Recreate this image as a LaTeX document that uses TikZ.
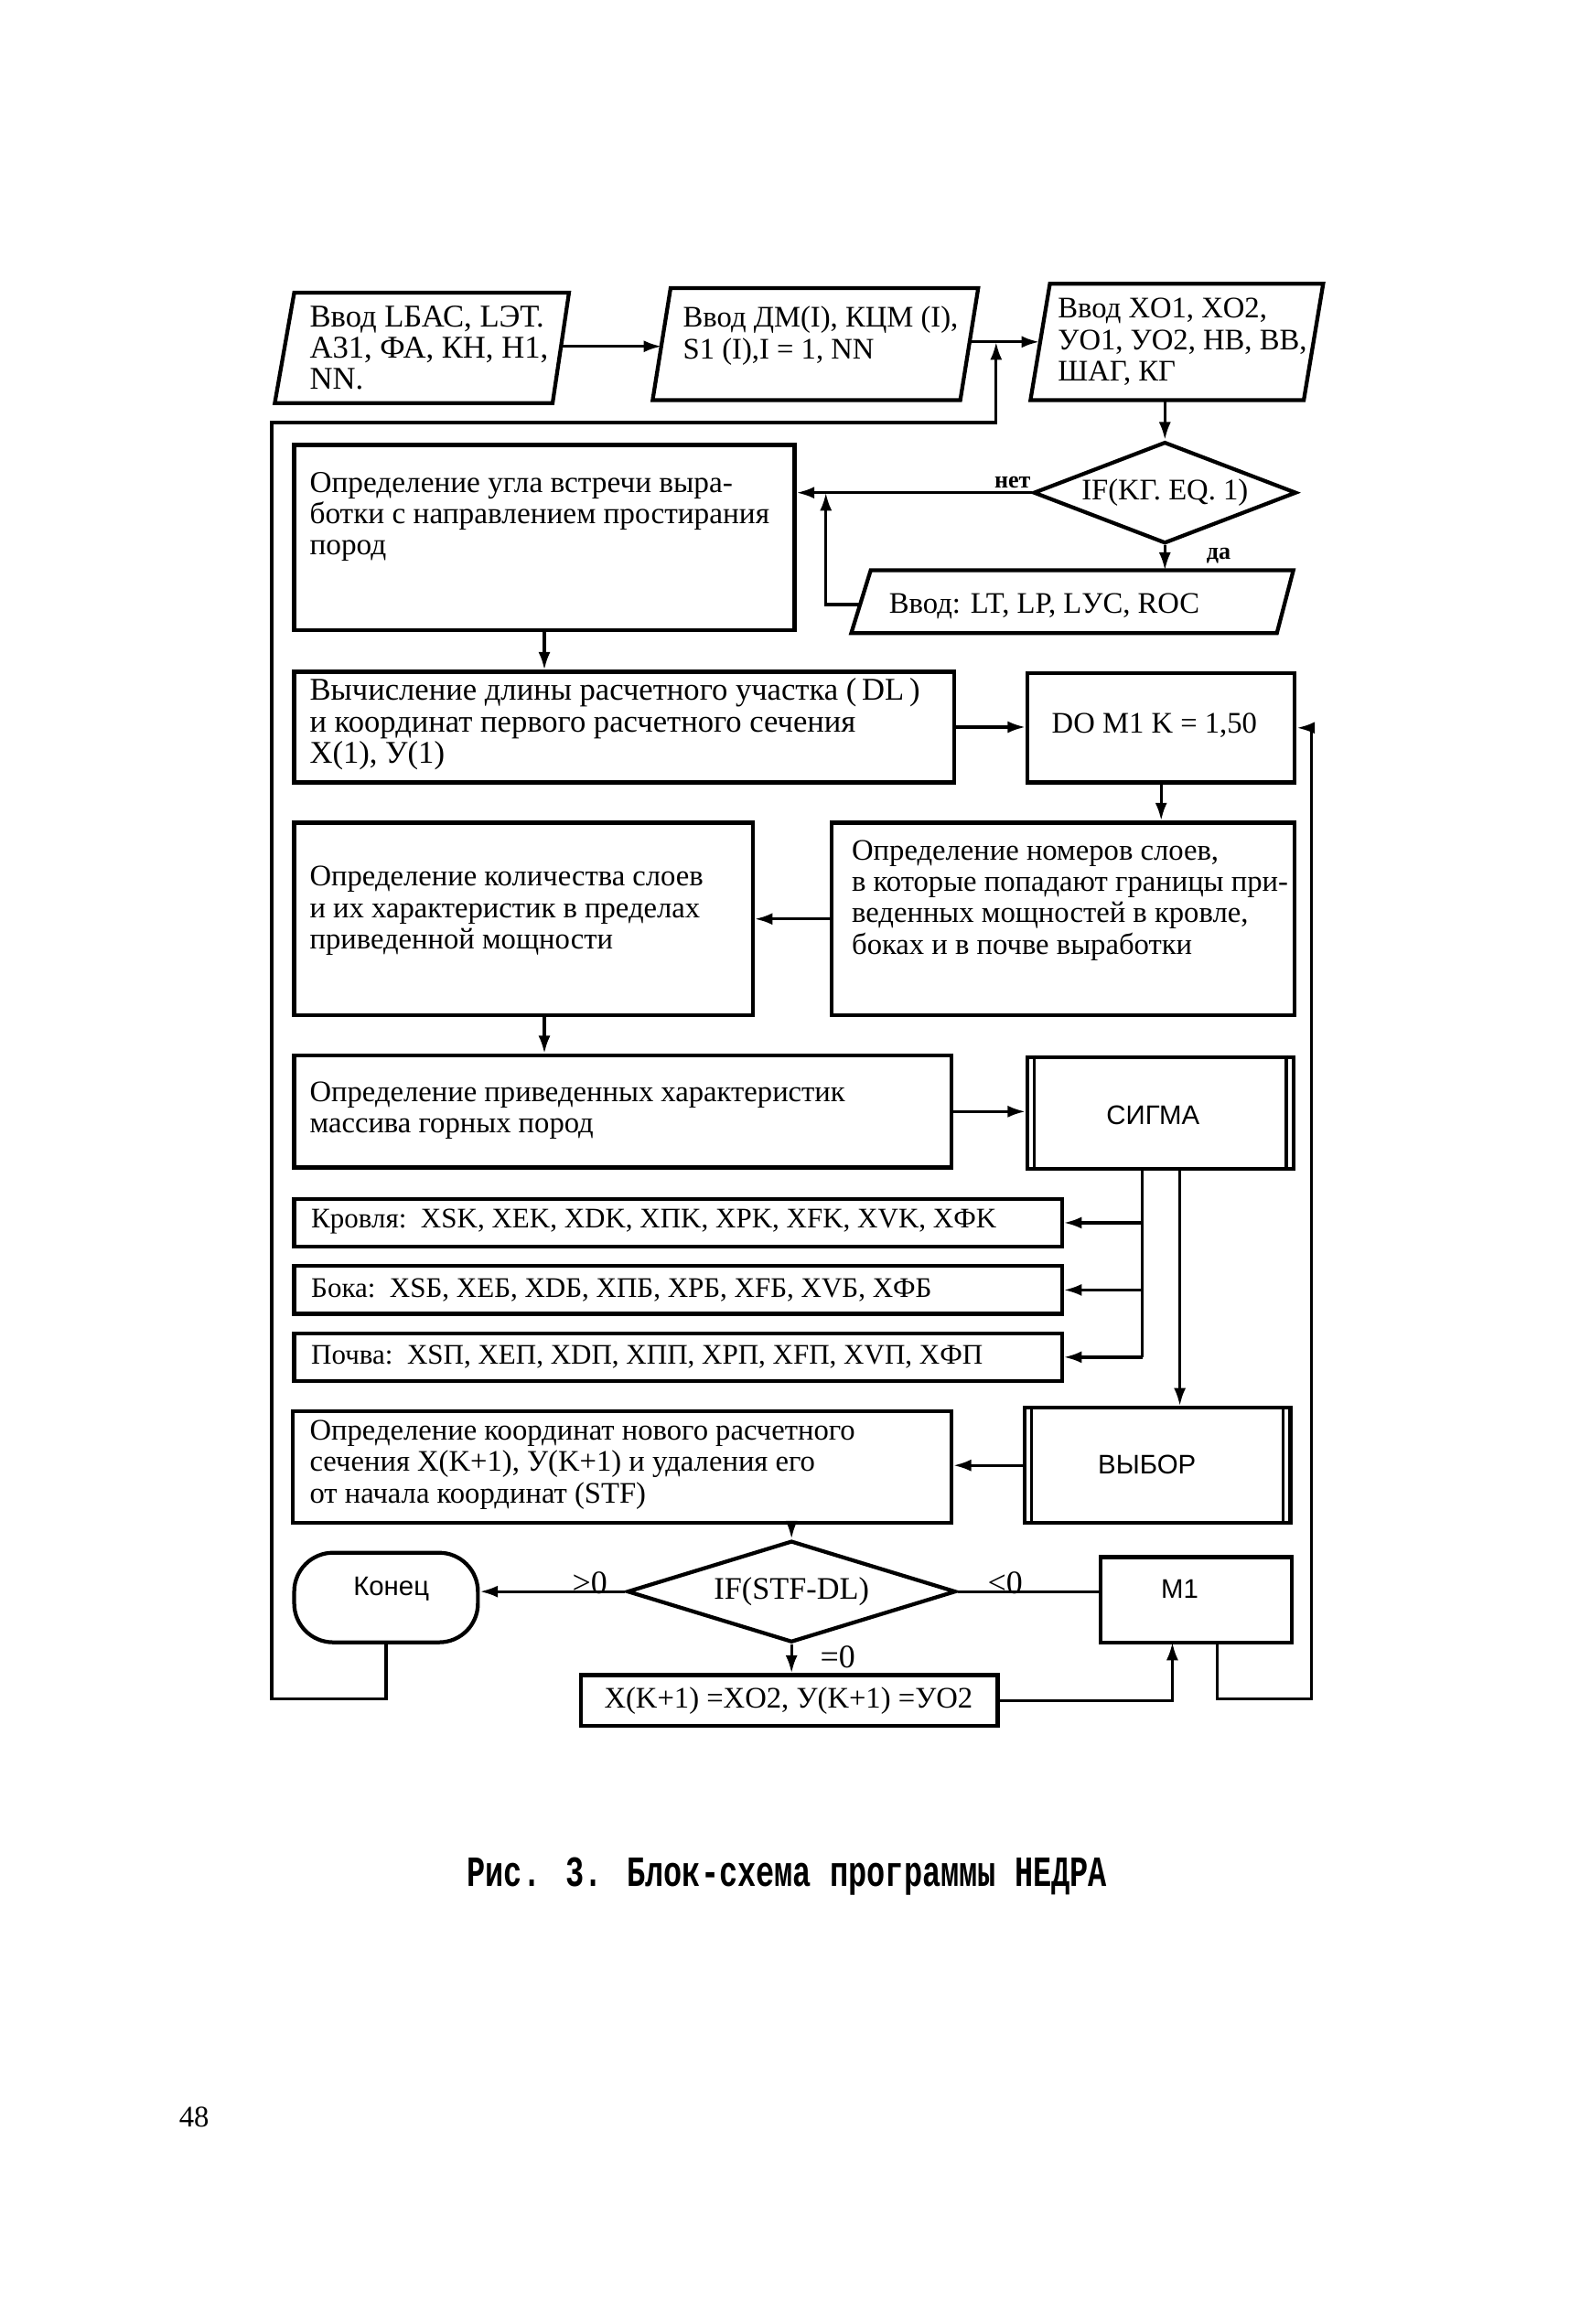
\documentclass[tikz,border=0pt]{standalone}
\usepackage{fontspec}
\usepackage{graphicx}
\setmainfont{Liberation Serif}
\newfontfamily\sansf{Liberation Sans}
\newfontfamily\monof{Liberation Mono}
\usetikzlibrary{arrows.meta,shapes.geometric,fit}
\begin{document}
\begin{tikzpicture}[x=0.5pt,y=-0.5pt,
  box/.style={draw,line width=1.3pt,inner sep=0pt,rectangle},
  shp/.style={draw,line width=1.3pt,line join=miter},
  dia/.style={draw,line width=1.3pt,shape=diamond,inner sep=0pt},
  txt/.style={align=left,inner sep=0pt,anchor=west,font=\fontsize{10}{10.5}\selectfont},
  wtxt/.style={txt,font=\fontsize{10.6}{10.5}\selectfont},
  ktxt/.style={txt,font=\fontsize{9.5}{10}\selectfont},
  ctxt/.style={align=center,inner sep=0pt,font=\fontsize{10}{10.5}\selectfont},
  stxt/.style={inner sep=0pt,font=\sansf\fontsize{9}{10}\selectfont},
  lab/.style={inner sep=0pt,font=\fontsize{11}{11}\selectfont},
  con/.style={line width=1pt},
  arr/.style={line width=1pt,-{Latex[length=6pt,width=4pt]}}]
\useasboundingbox (0,0) rectangle (1050,1556.6);

% ---------- top row: input parallelograms ----------
\draw[shp] (197,196) -- (381,196) -- (370,270) -- (184,270) -- cycle;
\node[wtxt] (p1) at (207,233) {Ввод LБАС, LЭТ.\\А31, ФА, КН, Н1,\\NN.};
\coordinate (p1e) at (375,232);

\draw[shp] (449,193) -- (655,193) -- (643,268) -- (437,268) -- cycle;
\node[txt] (p2) at (457,225) {Ввод ДМ(I), КЦМ (I),\\S1 (I),I = 1, NN};
\coordinate (p2w) at (443,232);
\coordinate (p2e) at (649,229);

\draw[shp] (703,190) -- (886,190) -- (873,268) -- (690,268) -- cycle;
\node[txt] (p3) at (708,229) {Ввод XO1, XO2,\\УO1, УO2, НВ, ВВ,\\ШАГ, КГ};
\coordinate (p3w) at (696,229);
\coordinate (p3s) at (780,268);

\draw[arr] (p1e) -- (p2w);
\draw[arr] (p2e) -- (p3w);
\coordinate (j2) at (667,229);

% ---------- decision KG ----------
\node[dia,minimum width=88pt,minimum height=34pt] (d1) at (780,330)
  {\makebox[0pt]{\fontsize{10}{10}\selectfont IF(KГ. EQ. 1)}};
\draw[arr] (p3s) -- (d1.north);
\node[lab,font=\bfseries\fontsize{8}{8}\selectfont] (lnet) at (678,323) {нет};
\node[lab,font=\bfseries\fontsize{8}{8}\selectfont] (lda) at (816,372) {да};

\draw[shp] (583,382) -- (866,382) -- (855,424) -- (570,424) -- cycle;
\node[txt] (p4) at (595,406) {Ввод: LT, LP, LУС, RОС};
\coordinate (p4n) at (780,382);
\coordinate (p4w) at (576,405);
\draw[arr] (d1.south) -- (p4n);

% ---------- box 1 ----------
\node[box,fit={(197,298) (532,422)}] (b1) {};
\node[txt,font=\fontsize{10.2}{10.5}\selectfont] (b1t) at (207,346) {Определение угла встречи выра-\\ботки с направлением простирания\\пород};
\draw[arr] (d1.west) -- (d1.west -| b1.east);
\coordinate (j1) at (553,330);
\draw[arr] (p4w) -| (j1);

% ---------- box 2 and DO ----------
\node[box,fit={(197,450) (639,524)}] (b2) {};
\node[wtxt] (b2t) at (207,485) {Вычисление длины расчетного участка (\,DL\,)\\и координат первого расчетного сечения\\X(1), У(1)};
\node[box,fit={(688,451) (867,524)}] (do) {};
\node[ctxt] (dot) at (773,486) {DO M1 K = 1,50};
\draw[arr] (b1.south) -- (b1.south |- b2.north);
\draw[arr] (b2.east) -- (b2.east -| do.west);

% ---------- boxes 3, 4 ----------
\node[box,fit={(197,551) (504,680)}] (b3) {};
\node[txt] (b3t) at (207,610) {Определение количества слоев\\и их характеристик в пределах\\приведенной мощности};
\node[box,fit={(557,551) (867,680)}] (b4) {};
\node[txt] (b4t) at (570,603) {Определение номеров слоев,\\в которые попадают границы при-\\веденных мощностей в кровле,\\боках и в почве выработки};
\draw[arr] (do.south) -- (do.south |- b4.north);
\draw[arr] (b4.west) -- (b4.west -| b3.east);

% ---------- box 5 and SIGMA ----------
\node[box,fit={(197,707) (637,782)}] (b5) {};
\node[txt] (b5t) at (207,744) {Определение приведенных характеристик\\массива горных пород};
\draw[arr] (b1.south |- b3.south) -- (b1.south |- b5.north);
\node[box,fit={(688,708) (866,783)}] (sig) {};
\draw[con] ([xshift=3pt]sig.north west) -- ([xshift=3pt]sig.south west);
\draw[con] ([xshift=-3pt]sig.north east) -- ([xshift=-3pt]sig.south east);
\node[stxt] (sigt) at (772,747) {СИГМА};
\draw[arr] (b5.east) -- (b5.east -| sig.west);

% ---------- result boxes ----------
\node[box,fit={(197,803) (711,835)}] (k1) {};
\node[ktxt] (k1t) at (208,818) {Кровля:\ \ XSK, XEK, XDK, XПK, XPK, XFK, XVK, XФK};
\node[box,fit={(197,848) (711,880)}] (k2) {};
\node[ktxt] (k2t) at (208,864) {Бока:\ \ XSБ, XEБ, XDБ, XПБ, XPБ, XFБ, XVБ, XФБ};
\node[box,fit={(197,893) (711,925)}] (k3) {};
\node[ktxt] (k3t) at (208,909) {Почва:\ \ XSП, XEП, XDП, XПП, XPП, XFП, XVП, XФП};
\coordinate (sA) at (765,783);
\draw[con] (sA) -- (sA |- k3.east);
\draw[arr] (sA |- k1.east) -- (k1.east);
\draw[arr] (sA |- k2.east) -- (k2.east);
\draw[arr] (sA |- k3.east) -- (k3.east);

% ---------- VYBOR ----------
\node[box,fit={(686,943) (864,1020)}] (vyb) {};
\draw[con] ([xshift=3pt]vyb.north west) -- ([xshift=3pt]vyb.south west);
\draw[con] ([xshift=-3pt]vyb.north east) -- ([xshift=-3pt]vyb.south east);
\node[stxt] (vybt) at (768,981) {ВЫБОР};
\coordinate (sB) at (790,783);
\draw[arr] (sB) -- (sB |- vyb.north);

\node[box,fit={(196,945) (637,1020)}] (b6) {};
\node[txt] (b6t) at (207,981) {Определение координат нового расчетного\\сечения X(K+1), У(K+1) и удаления его\\от начала координат (STF)};
\draw[arr] (vyb.west) -- (vyb.west -| b6.east);

% ---------- bottom row ----------
\node[dia,minimum width=110pt,minimum height=34pt] (d2) at (530,1066)
  {\makebox[0pt]{\fontsize{10.5}{10}\selectfont IF(STF-DL)}};
\draw[arr] (d2.north |- b6.south) -- (d2.north);

\node[draw,line width=1.3pt,rounded corners=13pt,inner sep=0pt,fit={(197,1040) (320,1100)}] (end) {};
\node[stxt] (endt) at (262,1064) {Конец};
\draw[arr] (d2.west) -- (d2.west -| end.east);
\node[lab] (lgt) at (395,1060) {>0};

\node[box,fit={(737,1043) (865,1100)}] (m1) {};
\node[stxt] (m1t) at (790,1064) {M1};
\draw[con] (d2.east) -- (d2.east -| m1.west);
\node[lab] (llt) at (673,1060) {<0};

\node[box,fit={(389,1122) (668,1156)}] (xb) {};
\node[ctxt] (xbt) at (528,1139) {X(K+1) =XO2, У(K+1) =УO2};
\draw[arr] (d2.south) -- (d2.south |- xb.north);
\node[lab] (leq) at (561,1110) {=0};

\coordinate (m1in) at (785,1100);
\coordinate (m1out) at (815,1100);
\draw[arr] (xb.east) -| (m1in);
\coordinate (rR) at (878,1138);
\draw[arr] (m1out) |- (rR) |- (do.east);

\coordinate (lL) at (182,1138);
\coordinate (lT) at (182,283);
\draw[arr] (end.south) |- (lL) -- (lT) -| (j2);

% ---------- caption ----------
\node[inner sep=0pt] (cap) at (527,1257)
  {\scalebox{1}[1.4]{\monof\bfseries\fontsize{10.3}{12}\selectfont Рис. 3. Блок-схема программы НЕДРА}};
\node[inner sep=0pt,font=\fontsize{10}{10}\selectfont] (pg) at (130,1418) {48};
\end{tikzpicture}
\end{document}
